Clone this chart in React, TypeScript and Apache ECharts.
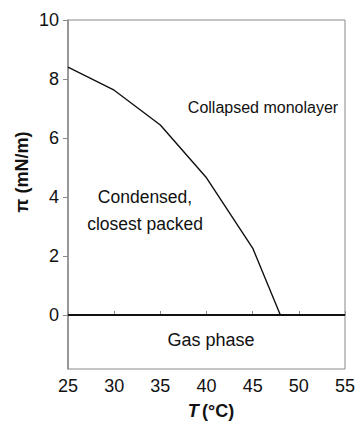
import React, { useEffect, useRef } from "react";
import * as echarts from "echarts";

const temperatures = [25, 30, 35, 40, 45, 48];
const pressures = [8.4, 7.62, 6.44, 4.65, 2.27, 0];
const gasLine = [
  [25, 0],
  [55, 0],
];
const yTicks = [0, 2, 4, 6, 8, 10];
const xTicks = [25, 30, 35, 40, 45, 50, 55];
const regionLabels = ["Collapsed monolayer", "Condensed,\nclosest packed", "Gas phase"];

const FONT = "'Liberation Sans', Arial, Helvetica, sans-serif";
const AXIS_GRAY = "#8a8a8a";

export default function App() {
  const ref = useRef<HTMLDivElement>(null);
  useEffect(() => {
    if (!ref.current) return;
    const chart = echarts.init(ref.current, null, { renderer: "svg" });
    chart.setOption({
      animation: false,
      backgroundColor: "#ffffff",
      grid: {
        left: 68,
        right: 11,
        top: 20,
        bottom: 55,
        show: true,
        borderColor: AXIS_GRAY,
        borderWidth: 1,
        backgroundColor: "transparent",
      },
      xAxis: {
        type: "value",
        min: 25,
        max: 55,
        interval: 5,
        axisLine: { show: true, lineStyle: { color: AXIS_GRAY, width: 1.5 } },
        axisTick: { show: true, inside: true, length: 4, lineStyle: { color: AXIS_GRAY } },
        splitLine: { show: false },
        axisLabel: {
          color: "#111",
          fontSize: 18,
          fontFamily: FONT,
          margin: 8,
          customValues: xTicks,
        },
      },
      yAxis: {
        type: "value",
        min: -1.83,
        max: 10,
        axisLine: { show: true, lineStyle: { color: AXIS_GRAY, width: 1.5 } },
        axisTick: {
          show: true,
          inside: false,
          length: 5,
          lineStyle: { color: AXIS_GRAY },
          customValues: yTicks,
        },
        splitLine: { show: false },
        axisLabel: {
          color: "#111",
          fontSize: 18,
          fontFamily: FONT,
          margin: 9,
          customValues: yTicks,
        },
      },
      series: [
        {
          type: "line",
          data: gasLine,
          symbol: "none",
          lineStyle: { color: "#111", width: 2 },
          silent: true,
        },
        {
          type: "line",
          data: temperatures.map((t, i) => [t, pressures[i]]),
          symbol: "none",
          lineStyle: { color: "#111", width: 1.4 },
          silent: true,
        },
      ],
      graphic: [
        {
          type: "text",
          x: 263,
          y: 107,
          style: {
            text: regionLabels[0],
            fontSize: 16,
            fontFamily: FONT,
            fill: "#111",
            align: "center",
            verticalAlign: "middle",
          },
        },
        {
          type: "text",
          x: 145,
          y: 210,
          style: {
            text: regionLabels[1],
            fontSize: 17.5,
            lineHeight: 27,
            fontFamily: FONT,
            fill: "#111",
            align: "center",
            verticalAlign: "middle",
          },
        },
        {
          type: "text",
          x: 211,
          y: 340,
          style: {
            text: regionLabels[2],
            fontSize: 18,
            fontFamily: FONT,
            fill: "#111",
            align: "center",
            verticalAlign: "middle",
          },
        },
        {
          type: "text",
          x: 22,
          y: 172,
          rotation: Math.PI / 2,
          style: {
            text: "π (mN/m)",
            fontSize: 18,
            fontWeight: "bold",
            fontFamily: FONT,
            fill: "#111",
            align: "center",
            verticalAlign: "middle",
          },
        },
        {
          type: "text",
          x: 211,
          y: 411,
          style: {
            text: "{t|T} {u|(°C)}",
            fontFamily: FONT,
            align: "center",
            verticalAlign: "middle",
            rich: {
              t: { fontSize: 18, fontWeight: "bold", fontStyle: "italic", fontFamily: FONT, fill: "#111" },
              u: { fontSize: 18, fontWeight: "bold", fontFamily: FONT, fill: "#111" },
            },
          },
        },
      ],
    });
    return () => chart.dispose();
  }, []);
  return (
    <div
      ref={ref}
      style={{ position: "fixed", left: 0, top: 0, width: 358, height: 424 }}
    />
  );
}
